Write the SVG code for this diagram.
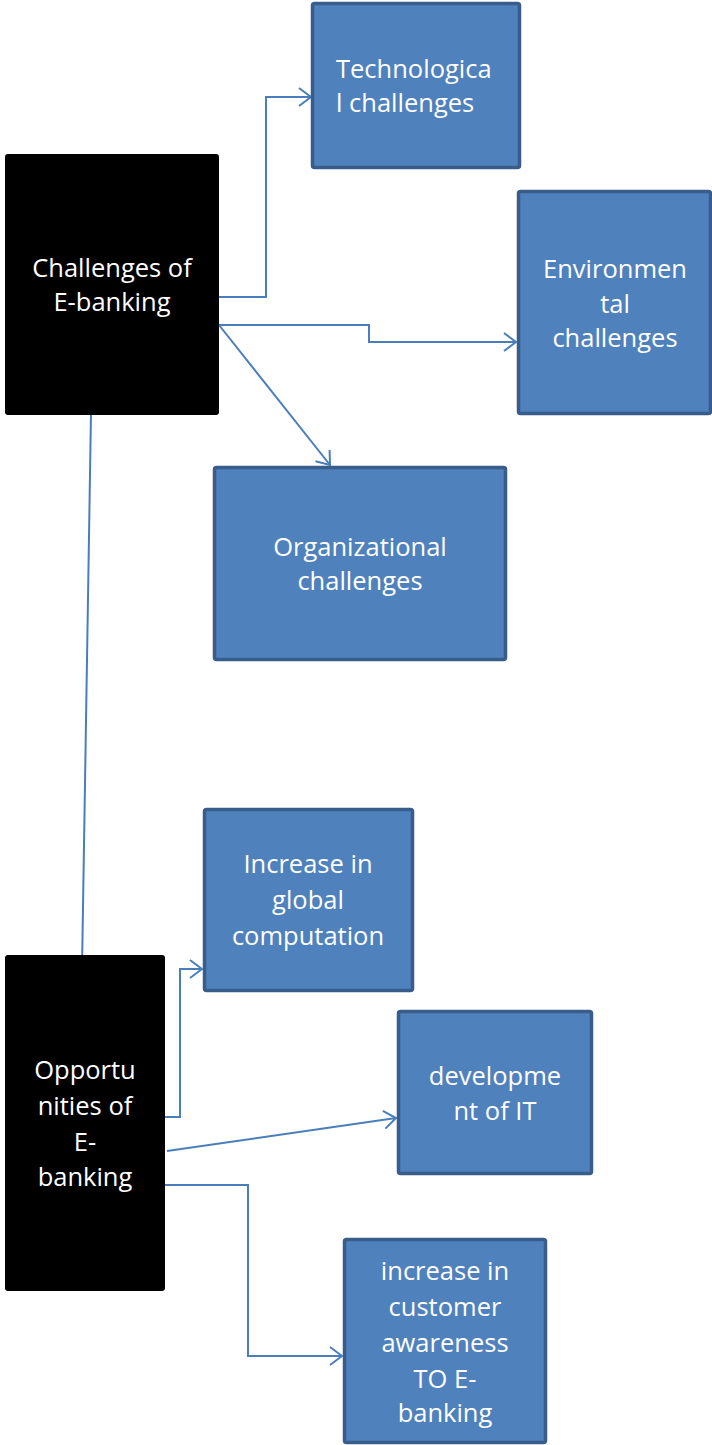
<svg xmlns="http://www.w3.org/2000/svg" width="712" height="1445" viewBox="0 0 712 1445">
<style>
.b{fill:#4F81BD;stroke:#385D8A;stroke-width:3.5}
.k{fill:#000000}
.t{font-family:"Open Sans","Liberation Sans",sans-serif;font-size:25.5px;fill:#FFFFFF;text-anchor:middle}
.c{fill:none;stroke:#4A7EBB;stroke-width:2}
</style>
<defs>
<marker id="ah" viewBox="0 0 14 20" refX="13" refY="10" markerWidth="14" markerHeight="20" markerUnits="userSpaceOnUse" orient="auto">
<path d="M1,1 L13,10 L1,19" fill="none" stroke="#4A7EBB" stroke-width="2"/>
</marker>
</defs>
<rect width="712" height="1445" fill="#FFFFFF"/>
<g id="connectors">
<path class="c" d="M219,297 H266 V97 H311" marker-end="url(#ah)"/>
<path class="c" d="M219,325 H369 V342 H516" marker-end="url(#ah)"/>
<path class="c" d="M219,325 L330,465" marker-end="url(#ah)"/>
<path class="c" d="M91,413 L82,969"/>
<path class="c" d="M155,1117 H180 V969 H202" marker-end="url(#ah)"/>
<path class="c" d="M167,1151 L396,1118" marker-end="url(#ah)"/>
<path class="c" d="M153,1185 H248 V1356 H342" marker-end="url(#ah)"/>
</g>
<g id="challenges">
<rect class="k" x="5" y="154" width="214" height="261" rx="3"/>
<text class="t" x="112" y="277">Challenges of</text>
<text class="t" x="112" y="311">E-banking</text>
</g>
<g id="technological">
<rect class="b" x="312.5" y="3.5" width="207" height="164" rx="2"/>
<text class="t" x="336" y="78" style="text-anchor:start">Technologica</text>
<text class="t" x="336" y="112" style="text-anchor:start">l challenges</text>
</g>
<g id="environmental">
<rect class="b" x="518.5" y="191.5" width="192" height="222" rx="2"/>
<text class="t" x="615" y="278">Environmen</text>
<text class="t" x="615" y="313">tal</text>
<text class="t" x="615" y="347">challenges</text>
</g>
<g id="organizational">
<rect class="b" x="214.5" y="467.5" width="291" height="192" rx="2"/>
<text class="t" x="360" y="556">Organizational</text>
<text class="t" x="360" y="590">challenges</text>
</g>
<g id="opportunities">
<rect class="k" x="5" y="955" width="160" height="336" rx="3"/>
<text class="t" x="85" y="1079">Opportu</text>
<text class="t" x="85" y="1115">nities of</text>
<text class="t" x="85" y="1151">E-</text>
<text class="t" x="85" y="1186">banking</text>
</g>
<g id="global">
<rect class="b" x="204.5" y="809.5" width="208" height="181" rx="2"/>
<text class="t" x="308" y="873">Increase in</text>
<text class="t" x="308" y="909">global</text>
<text class="t" x="308" y="945">computation</text>
</g>
<g id="development">
<rect class="b" x="398.5" y="1011.5" width="193" height="162" rx="2"/>
<text class="t" x="495" y="1085">developme</text>
<text class="t" x="495" y="1120">nt of IT</text>
</g>
<g id="awareness">
<rect class="b" x="344.5" y="1239.5" width="201" height="203" rx="2"/>
<text class="t" x="445" y="1280">increase in</text>
<text class="t" x="445" y="1316">customer</text>
<text class="t" x="445" y="1352">awareness</text>
<text class="t" x="445" y="1388">TO E-</text>
<text class="t" x="445" y="1422">banking</text>
</g>
</svg>
